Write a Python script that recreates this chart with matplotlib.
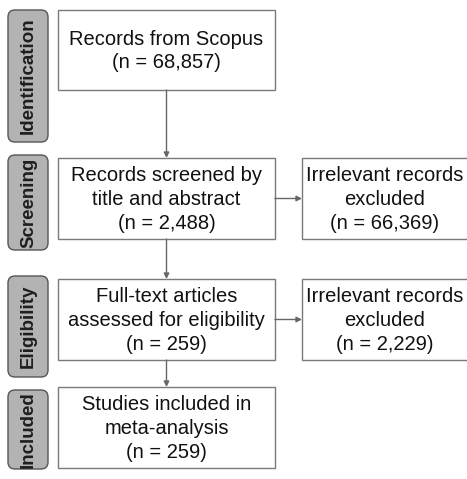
import matplotlib.pyplot as plt
from matplotlib.patches import FancyBboxPatch, Rectangle

plt.rcParams['font.family'] = ['Liberation Sans', 'DejaVu Sans']

stages = ['Identification', 'Screening', 'Eligibility', 'Included']
main_texts = ['Records from Scopus\n(n = 68,857)',
              'Records screened by\ntitle and abstract\n(n = 2,488)',
              'Full-text articles\nassessed for eligibility\n(n = 259)',
              'Studies included in\nmeta-analysis\n(n = 259)']
side_texts = [None,
              'Irrelevant records\nexcluded\n(n = 66,369)',
              'Irrelevant records\nexcluded\n(n = 2,229)',
              None]

# layout in pixels (top, bottom)
stage_y = [(10, 142), (155, 250), (276, 377), (390, 469)]
main_y = [(10, 90), (158, 239), (279, 360), (387, 468)]
main_x = (58, 275)
side_x = (302, 470)

fig = plt.figure(figsize=(4.67, 4.79), dpi=100)
ax = fig.add_axes([0, 0, 1, 1])
ax.set_xlim(0, 467)
ax.set_ylim(479, 0)
ax.axis('off')

for i, name in enumerate(stages):
    y0, y1 = stage_y[i]
    ax.add_patch(FancyBboxPatch((8, y0), 40, y1 - y0,
                                boxstyle='round,pad=0,rounding_size=7',
                                fc='#b3b3b3', ec='#555555', lw=1))
    ax.text(28.5, (y0 + y1) / 2, name, rotation=90, ha='center', va='center',
            fontsize=13.5, fontweight='bold', color='#1e1e1e')

    y0, y1 = main_y[i]
    ax.add_patch(Rectangle((main_x[0], y0), main_x[1] - main_x[0], y1 - y0,
                           fc='white', ec='#7a7a7a', lw=1))
    ax.text((main_x[0] + main_x[1]) / 2, (y0 + y1) / 2 + 1, main_texts[i],
            ha='center', va='center', fontsize=14.5, color='#111111',
            linespacing=1.32)

    if side_texts[i]:
        ax.add_patch(Rectangle((side_x[0], y0), side_x[1] - side_x[0], y1 - y0,
                               fc='white', ec='#7a7a7a', lw=1))
        ax.text(385, (y0 + y1) / 2 + 1, side_texts[i],
                ha='center', va='center', fontsize=14.5, color='#111111',
                linespacing=1.32)
        ax.annotate('', xy=(side_x[0], (y0 + y1) / 2), xytext=(main_x[1], (y0 + y1) / 2),
                    arrowprops=dict(arrowstyle='-|>', color='#666666', lw=1,
                                    mutation_scale=8, shrinkA=0, shrinkB=0))

    if i < len(stages) - 1:
        xc = (main_x[0] + main_x[1]) / 2
        ax.annotate('', xy=(xc, main_y[i + 1][0]), xytext=(xc, y1),
                    arrowprops=dict(arrowstyle='-|>', color='#666666', lw=1,
                                    mutation_scale=8, shrinkA=0, shrinkB=0))

fig.savefig('out.png', dpi=100)
